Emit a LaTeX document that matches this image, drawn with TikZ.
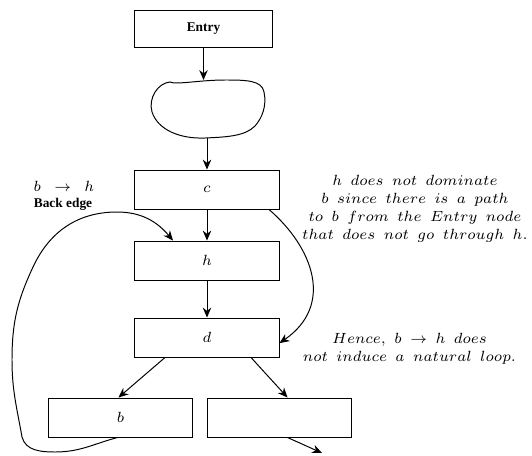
\documentclass[tikz,border=0pt]{standalone}
\usepackage{amsmath}
\usepackage{graphicx}
\usepackage{fontspec}
\newfontfamily\timesfont{Liberation Serif}
\usetikzlibrary{arrows.meta,positioning,calc}
\tikzset{
  block/.style={rectangle,draw,line width=0.7pt,minimum width=3.6cm,minimum height=0.975cm,inner sep=0pt},
  flow/.style={-{Stealth[length=7pt,width=6pt]},line width=0.7pt},
  note/.style={align=center,font=\fontsize{7}{8.5}\selectfont,scale=1.5,transform shape}
}
\newcommand{\lbl}[1]{\scalebox{1.5}{\fontsize{7}{8}\selectfont$#1$}}
\newcommand{\wsp}{\hspace{4pt}}
\begin{document}
\begin{tikzpicture}[x=0.025cm,y=-0.025cm]
\useasboundingbox (0,0) rectangle (532,455);

\node (entry) at (203.5,28.5)[block,minimum width=3.425cm,minimum height=0.925cm] {\timesfont\bfseries\fontsize{9.5}{11}\selectfont Entry};
% blob
\draw[line width=0.7pt] (170,82) .. controls (176,85) and (200,80) .. (225,80) .. controls (245,80) and (262,80) .. (264,92) .. controls (267,106) and (262,118) .. (255,126) .. controls (245,136) and (228,137) .. (205,138) .. controls (180,139) and (158,130) .. (152,112) .. controls (148,98) and (158,83) .. (170,82) -- cycle;
\coordinate (blobtop) at (203.5,80);
\coordinate (blobbot) at (207,138);

\node (c) at (207,189.5)[block] {\lbl{c}};
\node (h) at (207,260.5)[block] {\lbl{h}};
\node (d) at (207,337.5)[block] {\lbl{d}};
\node (b) at (120.5,417.5)[block] {\lbl{b}};
\node (r) at (279.5,417.5)[block] {};
\coordinate (exit) at (322,453);

\draw[flow] (entry) -- (blobtop);
\draw[flow] (blobbot) -- (c);
\draw[flow] (c) -- (h);
\draw[flow] (h) -- (d);
\draw[flow] ([xshift=-1.05cm]d.south) -- ([xshift=-0.05cm]b.north);
\draw[flow] ([xshift=1.1cm]d.south) -- ([xshift=0.2cm]r.north);
\draw[flow] ([xshift=0.2cm]r.south) -- (exit);

\draw[flow] ([xshift=1.55cm]c.south) .. controls +(44,38) and +(55,-38) .. ([yshift=-0.14cm]d.east);
% back edge b -> h
\draw[flow] ([xshift=-0.075cm]b.south) to[out=-165,in=0] (55,452) to[out=180,in=-75] (22,437)
  to[out=100,in=-90] (12,360) to[out=90,in=-115] (33,267) to[out=65,in=180] (117,212) to[out=0,in=130] ([xshift=-0.85cm]h.north);

\node (be) at (64,186) {\lbl{b\wsp\rightarrow\wsp h}};
\node (bel) at (63,204) {\timesfont\bfseries\fontsize{9.5}{11}\selectfont Back edge};

\node (why) at (415,208.5)[note] {$h$\wsp$does$\wsp$not$\wsp$dominate$\\ $b$\wsp$since$\wsp$there$\wsp$is$\wsp$a$\wsp$path$\\ $to$\wsp$b$\wsp$from$\wsp$the$\wsp$Entry$\wsp$node$\\ $that$\wsp$does$\wsp$not$\wsp$go$\wsp$through$\wsp$h.$};
\node (hence) at (409.5,349)[note] {$Hence,$\wsp$b$\wsp$\rightarrow$\wsp$h$\wsp$does$\\ $not$\wsp$induce$\wsp$a$\wsp$natural$\wsp$loop.$};
\end{tikzpicture}
\end{document}
